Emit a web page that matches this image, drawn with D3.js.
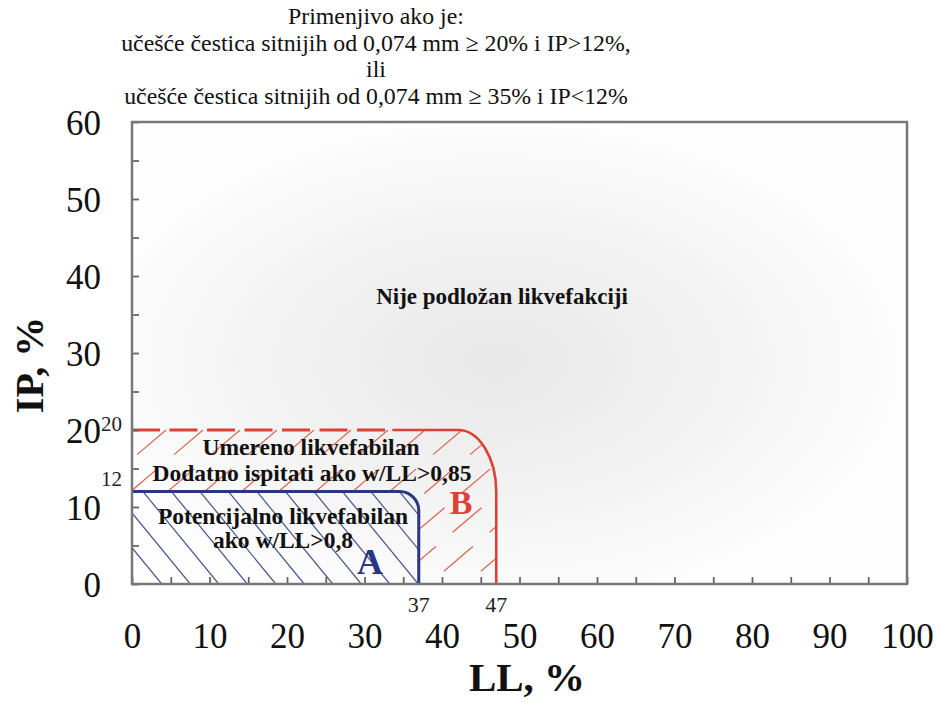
<!DOCTYPE html>
<html><head><meta charset="utf-8">
<script src="https://cdn.jsdelivr.net/npm/d3@7"></script>
<style>
html,body{margin:0;padding:0;background:#fff;}
svg{display:block;}
</style></head>
<body>
<svg id="chart" width="937" height="704"></svg>
<script>
// ---- data ----
const titleLines = [
  "Primenjivo ako je:",
  "učešće čestica sitnijih od 0,074 mm ≥ 20% i IP>12%,",
  "ili",
  "učešće čestica sitnijih od 0,074 mm ≥ 35% i IP<12%"
];
const xDomain = [0, 100];
const yDomain = [0, 60];
const xMajorTicks = [0,10,20,30,40,50,60,70,80,90,100];
const yMajorTicks = [0,10,20,30,40,50,60];
const minorStep = 5;
// zone limits: [LL limit, IP limit]
const zoneA = {ll: 37, ip: 12, label: "A"};
const zoneB = {ll: 47, ip: 20, label: "B"};
const xMarks = [37, 47];
const yMarks = [20, 12];
const zoneTextB = ["Umereno likvefabilan", "Dodatno ispitati ako w/LL>0,85"];
const zoneTextA = ["Potencijalno likvefabilan", "ako w/LL>0,8"];
const zoneTextN = "Nije podložan likvefakciji";
const xTitle = "LL, %";
const yTitle = "IP, %";

// ---- layout ----
const FONT = "'Liberation Serif','Times New Roman',serif";
const svg = d3.select("#chart").attr("font-family", FONT);
const L = 132, R = 907, T = 122, B = 584;
const x = d3.scaleLinear().domain(xDomain).range([L, R]);
const y = d3.scaleLinear().domain(yDomain).range([B, T]);
const RED = "#dc4234", BLUE = "#283684";

const defs = svg.append("defs");
const grad = defs.append("radialGradient").attr("id","bg")
  .attr("cx","0.47").attr("cy","0.52").attr("r","0.55")
  .attr("fx","0.47").attr("fy","0.52");
grad.append("stop").attr("offset","0").attr("stop-color","#e8e8e8");
grad.append("stop").attr("offset","0.55").attr("stop-color","#f3f3f3");
grad.append("stop").attr("offset","1").attr("stop-color","#fefefe");

svg.append("rect").attr("x",L).attr("y",T).attr("width",R-L).attr("height",B-T)
  .attr("fill","url(#bg)");

// title
svg.append("g").selectAll("text").data(titleLines).join("text")
  .attr("font-family",FONT)
  .attr("x", 376).attr("y",(d,i)=>24+i*26.5)
  .attr("text-anchor","middle").attr("font-size",23.8).attr("fill","#111")
  .text(d=>d);

// zone outlines (paths built from scale values)
const rA = 19, rBx = 38, rBy = 62;
function zonePath(z, rx, ry){
  return `M${x(0)},${y(z.ip)} L${x(z.ll)-rx},${y(z.ip)} `+
    `C${x(z.ll)-rx*0.45},${y(z.ip)} ${x(z.ll)},${y(z.ip)+ry*0.45} ${x(z.ll)},${y(z.ip)+ry} `+
    `L${x(z.ll)},${y(0)} L${x(0)},${y(0)} Z`;
}
const pathA = zonePath(zoneA, rA, rA);
const pathB = zonePath(zoneB, rBx, rBy);

defs.append("clipPath").attr("id","clipA").append("path").attr("d", pathA);
defs.append("clipPath").attr("id","clipB").append("path")
  .attr("d", pathB + " " + pathA).attr("clip-rule","evenodd");

// hatches for zone A "\" direction
const gA = svg.append("g").attr("clip-path","url(#clipA)");
const spA = 28.5, slopeA = 1.22;
const offsA = d3.range(x(0)-160, x(zoneA.ll)+10, spA);
gA.selectAll("line").data(offsA).join("line")
  .attr("x1",d=>d).attr("y1",y(zoneA.ip))
  .attr("x2",d=>d+(y(0)-y(zoneA.ip))/slopeA).attr("y2",y(0))
  .attr("stroke","#45548f").attr("stroke-width",1.2);

// hatches for zone B "/" direction
const gB = svg.append("g").attr("clip-path","url(#clipB)");
const spB = 37, slopeB = 0.85;
const offsB = d3.range(x(0)-40, x(zoneB.ll)+200, spB);
gB.selectAll("line").data(offsB).join("line")
  .attr("x1",d=>d).attr("y1",y(zoneB.ip))
  .attr("x2",d=>d-(y(0)-y(zoneB.ip))/slopeB).attr("y2",y(0))
  .attr("stroke","#e0604e").attr("stroke-width",1.2)
  .attr("stroke-dasharray","38,22");

// zone B outline: dashed first part of top, then solid
const dashEnd = 33.6;
svg.append("line").attr("x1",x(0)).attr("x2",x(dashEnd))
  .attr("y1",y(zoneB.ip)).attr("y2",y(zoneB.ip))
  .attr("stroke",RED).attr("stroke-width",3).attr("stroke-dasharray","28,9.5");
svg.append("path")
  .attr("d",`M${x(dashEnd)},${y(zoneB.ip)} L${x(zoneB.ll)-rBx},${y(zoneB.ip)} `+
    `C${x(zoneB.ll)-rBx*0.45},${y(zoneB.ip)} ${x(zoneB.ll)},${y(zoneB.ip)+rBy*0.45} ${x(zoneB.ll)},${y(zoneB.ip)+rBy} L${x(zoneB.ll)},${y(0)}`)
  .attr("fill","none").attr("stroke",RED).attr("stroke-width",2.6);
// zone A outline
svg.append("path")
  .attr("d",`M${x(0)},${y(zoneA.ip)} L${x(zoneA.ll)-rA},${y(zoneA.ip)} `+
    `C${x(zoneA.ll)-rA*0.45},${y(zoneA.ip)} ${x(zoneA.ll)},${y(zoneA.ip)+rA*0.45} ${x(zoneA.ll)},${y(zoneA.ip)+rA} L${x(zoneA.ll)},${y(0)}`)
  .attr("fill","none").attr("stroke",BLUE).attr("stroke-width",3);

// axes: minor ticks inward
const minorX = d3.range(xDomain[0], xDomain[1]+0.1, minorStep);
const minorY = d3.range(yDomain[0], yDomain[1]+0.1, minorStep);
const gx = svg.append("g").attr("transform",`translate(0,${B})`)
  .call(d3.axisBottom(x).tickValues(minorX).tickSize(-7).tickFormat(""));
gx.select(".domain").remove();
gx.selectAll("line").attr("stroke","#666").attr("stroke-width",1.8);
const gy = svg.append("g").attr("transform",`translate(${L},0)`)
  .call(d3.axisLeft(y).tickValues(minorY).tickSize(-7).tickFormat(""));
gy.select(".domain").remove();
gy.selectAll("line").attr("stroke","#666").attr("stroke-width",1.8);

// frame
svg.append("rect").attr("x",L).attr("y",T).attr("width",R-L).attr("height",B-T)
  .attr("fill","none").attr("stroke","#777").attr("stroke-width",2.5);

// major tick labels
const gxl = svg.append("g").attr("transform",`translate(0,${B})`)
  .call(d3.axisBottom(x).tickValues(xMajorTicks).tickSize(0).tickFormat(d3.format("d")))
  .attr("font-family",FONT);
gxl.select(".domain").remove();
gxl.selectAll("text").attr("y",64).attr("dy",null)
  .attr("font-size",35).attr("fill","#111");
const gyl = svg.append("g").attr("transform",`translate(${L},0)`)
  .call(d3.axisLeft(y).tickValues(yMajorTicks).tickSize(0).tickFormat(d3.format("d")))
  .attr("font-family",FONT);
gyl.select(".domain").remove();
gyl.selectAll("text").attr("x",-31).attr("dy","0.36em")
  .attr("font-size",35).attr("fill","#111");

// small boundary labels
svg.append("g").selectAll("text").data(xMarks).join("text")
  .attr("font-family",FONT)
  .attr("x",d=>x(d)).attr("y",612).attr("text-anchor","middle")
  .attr("font-size",22).attr("fill","#222").text(d=>d);
svg.append("g").selectAll("text").data(yMarks).join("text")
  .attr("font-family",FONT)
  .attr("x",101).attr("y",d=>y(d)+ (d===20?1:-6)).attr("text-anchor","start")
  .attr("font-size",21).attr("fill","#222").text(d=>d);

// zone texts
svg.append("text").attr("font-family",FONT).attr("x",502).attr("y",304).attr("text-anchor","middle")
  .attr("font-size",23).attr("font-weight","bold").attr("fill","#111").text(zoneTextN);
svg.append("g").selectAll("text").data(zoneTextB).join("text")
  .attr("font-family",FONT)
  .attr("x",(d,i)=>i?312:311).attr("y",(d,i)=>455+i*26)
  .attr("text-anchor","middle").attr("font-size",23.5).attr("font-weight","bold")
  .attr("fill","#111").text(d=>d);
svg.append("g").selectAll("text").data(zoneTextA).join("text")
  .attr("font-family",FONT)
  .attr("x",(d,i)=>i?283:283).attr("y",(d,i)=>524+i*24)
  .attr("text-anchor","middle").attr("font-size",23.5).attr("font-weight","bold")
  .attr("fill","#111").text(d=>d);
svg.append("text").attr("font-family",FONT).attr("x",370).attr("y",574).attr("text-anchor","middle")
  .attr("font-size",36).attr("font-weight","bold").attr("fill",BLUE).text(zoneA.label);
svg.append("text").attr("font-family",FONT).attr("x",461).attr("y",514).attr("text-anchor","middle")
  .attr("font-size",34).attr("font-weight","bold").attr("fill",RED).text(zoneB.label);

// axis titles
svg.append("text").attr("font-family",FONT).attr("x",527).attr("y",691).attr("text-anchor","middle")
  .attr("font-size",41).attr("font-weight","bold").attr("fill","#111").text(xTitle);
svg.append("text").attr("font-family",FONT).attr("transform","translate(43,365) rotate(-90)")
  .attr("text-anchor","middle").attr("font-size",40).attr("font-weight","bold")
  .attr("fill","#111").text(yTitle);
</script>
</body></html>
